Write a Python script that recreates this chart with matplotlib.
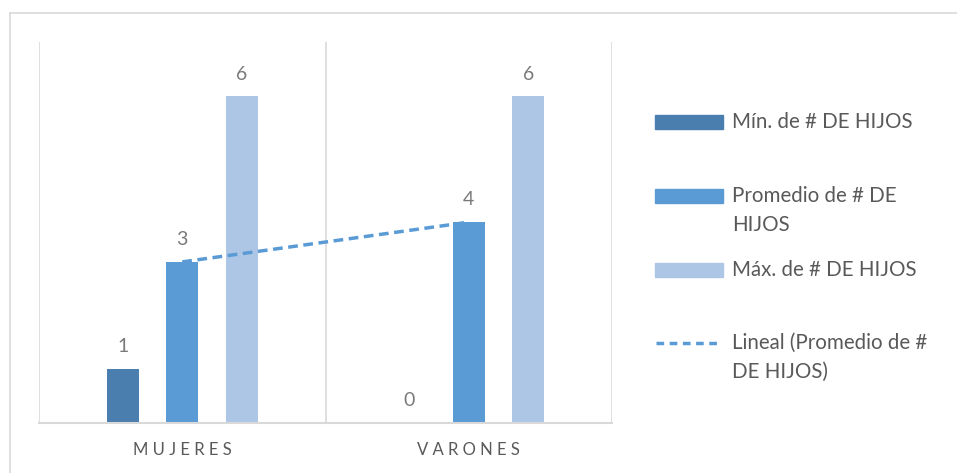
import numpy as np
import matplotlib
matplotlib.use("Agg")
import matplotlib.pyplot as plt
from matplotlib.patches import Rectangle
from matplotlib.lines import Line2D

plt.rcParams['font.family'] = ['Lato', 'DejaVu Sans']

# datos
categorias = ["MUJERES", "VARONES"]
series = ["Mín. de # DE HIJOS", "Promedio de # DE\nHIJOS", "Máx. de # DE HIJOS"]
minimo = [1, 0]
promedio = [2.96, 3.69]
maximo = [6, 6]
etiquetas_tendencia = "Lineal (Promedio de #\nDE HIJOS)"

colores = ["#4A7EAF", "#5B9BD5", "#AEC6E6"]
gris_txt = "#595959"
gris_lab = "#7A7A7A"
gris_lin = "#D9D9D9"
guiones = (0, (2.8, 1.6))

W, H = 957, 473
fig = plt.figure(figsize=(W / 100, H / 100), dpi=100)


def fx(px):
    return px / W


def fy(py):
    return 1 - py / H


# borde del grafico
fig.add_artist(Line2D([fx(10), fx(10)], [fy(13), 0], color=gris_lin, lw=1.2, transform=fig.transFigure))
fig.add_artist(Line2D([fx(10), 1], [fy(13), fy(13)], color=gris_lin, lw=1.2, transform=fig.transFigure))

ax = fig.add_axes([fx(39), fy(423), fx(612) - fx(39), fy(42) - fy(423)])
x = np.arange(len(categorias))
ancho = 0.11
paso = 0.2077

valores = [minimo, promedio, maximo]
for i, vals in enumerate(valores):
    pos = x + (i - 1) * paso
    ax.bar(pos, vals, width=ancho, color=colores[i], zorder=2)
    for p, v in zip(pos, vals):
        ax.annotate("{:.0f}".format(v), (p, v), xytext=(0, 10), textcoords="offset points",
                    ha="center", va="bottom", fontsize=14, color=gris_lab)

# linea de tendencia lineal sobre el promedio
coef = np.polyfit(x, promedio, 1)
ax.plot(x, np.polyval(coef, x), color=colores[1], lw=2.5, ls=guiones, zorder=3)

ax.set_xlim(-0.5, 1.5)
ax.set_ylim(0, 7)
for s in ["top", "left", "right"]:
    ax.spines[s].set_visible(False)
ax.spines["bottom"].set_color(gris_lin)
ax.spines["bottom"].set_linewidth(1.5)
for xv in [-0.5, 0.5, 1.5]:
    ax.axvline(xv, color=gris_lin, lw=1.2, zorder=1)
ax.set_yticks([])
ax.set_xticks(x)
ax.set_xticklabels([" ".join(c) for c in categorias], fontsize=12, color=gris_txt)
ax.tick_params(axis="x", length=0, pad=14)

# leyenda
fs_ley = 14.8
ley_y = [122, 196, 270]
for c, lab, yy in zip(colores, series, ley_y):
    fig.add_artist(Rectangle((fx(655), fy(yy + 7)), fx(723) - fx(655), 14 / H,
                             color=c, transform=fig.transFigure))
    fig.text(fx(732), fy(yy), lab.split("\n")[0], ha="left", va="center", fontsize=fs_ley, color=gris_txt)
    if "\n" in lab:
        fig.text(fx(732), fy(yy + 29), lab.split("\n")[1], ha="left", va="center", fontsize=fs_ley, color=gris_txt)

fig.add_artist(Line2D([fx(656), fx(722)], [fy(343), fy(343)], color=colores[1], lw=2.5,
                      ls=(0, (2.2, 1.6)), transform=fig.transFigure))
l1, l2 = etiquetas_tendencia.split("\n")
fig.text(fx(732), fy(343), l1, ha="left", va="center", fontsize=fs_ley, color=gris_txt)
fig.text(fx(732), fy(372), l2, ha="left", va="center", fontsize=fs_ley, color=gris_txt)

fig.savefig("out.png", dpi=100)
